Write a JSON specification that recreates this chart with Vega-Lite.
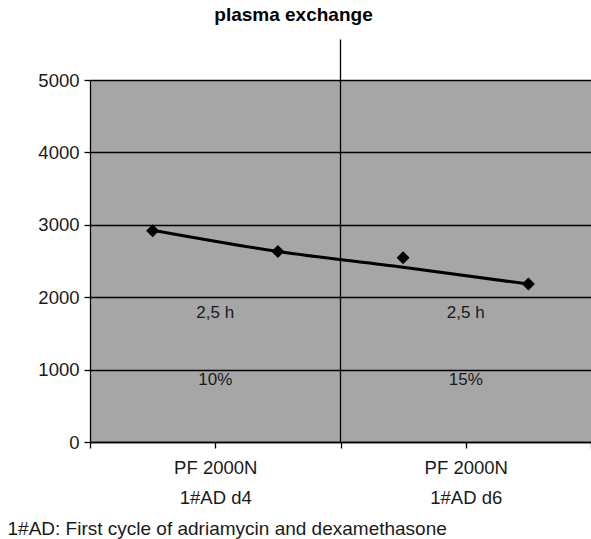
{
  "$schema": "https://vega.github.io/schema/vega-lite/v6.json",
  "width": 501,
  "height": 362,
  "autosize": {"type": "none"},
  "padding": {"left": 90, "top": 80, "right": 0, "bottom": 97},
  "background": "white",
  "config": {
    "view": {"fill": "#a6a6a6", "stroke": null},
    "font": "Liberation Sans"
  },
  "title": {
    "text": "plasma exchange",
    "fontSize": 19,
    "fontWeight": "bold",
    "color": "black",
    "anchor": "middle",
    "dx": -47,
    "offset": 14
  },
  "datasets": {
    "points": [
      {"x": 0.5, "v": 2917},
      {"x": 1.5, "v": 2632},
      {"x": 2.5, "v": 2544},
      {"x": 3.5, "v": 2181}
    ],
    "trend": [
      {"x": 0.5, "v": 2925},
      {"x": 1.5, "v": 2632},
      {"x": 2.5, "v": 2414},
      {"x": 3.5, "v": 2181}
    ],
    "labels": [
      {"x": 1, "v": 1780, "t": "2,5 h"},
      {"x": 3, "v": 1780, "t": "2,5 h"},
      {"x": 1, "v": 860, "t": "10%"},
      {"x": 3, "v": 860, "t": "15%"}
    ]
  },
  "layer": [
    {
      "data": {"values": [{"x": 2}]},
      "mark": {"type": "rule", "color": "black", "strokeWidth": 1.3, "clip": false},
      "encoding": {
        "x": {
          "field": "x",
          "type": "quantitative",
          "scale": {"domain": [0, 4], "nice": false},
          "axis": {
            "values": [0, 1, 2, 3, 4],
            "labelExpr": "datum.value == 1 ? ['PF 2000N', '1#AD d4'] : datum.value == 3 ? ['PF 2000N', '1#AD d6'] : ''",
            "labelFontSize": 18.5,
            "labelColor": "#1a1a1a",
            "labelLineHeight": 30,
            "labelPadding": 10,
            "labelFlush": false,
            "labelOverlap": false,
            "tickSize": 6,
            "tickColor": "black",
            "tickWidth": 1.3,
            "domainColor": "black",
            "domainWidth": 1.3,
            "grid": false,
            "title": "1#AD: First cycle of adriamycin and dexamethasone",
            "titleFontSize": 19,
            "titleFontWeight": "normal",
            "titleColor": "#1a1a1a",
            "titleAnchor": "start",
            "titleAlign": "left",
            "titleBaseline": "middle",
            "titleX": -83,
            "titleY": 86
          }
        },
        "y": {
          "datum": 0,
          "type": "quantitative",
          "scale": {"domain": [0, 5000], "nice": false},
          "axis": {
            "values": [0, 1000, 2000, 3000, 4000, 5000],
            "format": "d",
            "labelFontSize": 18.5,
            "labelColor": "#1a1a1a",
            "labelPadding": 5,
            "tickSize": 6,
            "tickColor": "black",
            "tickWidth": 1.3,
            "domainColor": "black",
            "domainWidth": 1.3,
            "grid": true,
            "gridColor": "black",
            "gridOpacity": 1,
            "gridWidth": 1.5,
            "title": null
          }
        },
        "y2": {"datum": 5560}
      }
    },
    {
      "data": {"name": "labels"},
      "mark": {"type": "text", "fontSize": 17, "color": "#1a1a1a", "baseline": "middle", "align": "center"},
      "encoding": {
        "x": {"field": "x", "type": "quantitative"},
        "y": {"field": "v", "type": "quantitative"},
        "text": {"field": "t"}
      }
    },
    {
      "data": {"name": "trend"},
      "mark": {"type": "line", "color": "black", "strokeWidth": 3, "interpolate": "monotone"},
      "encoding": {
        "x": {"field": "x", "type": "quantitative"},
        "y": {"field": "v", "type": "quantitative"}
      }
    },
    {
      "data": {"name": "points"},
      "mark": {"type": "point", "shape": "diamond", "filled": true, "color": "black", "opacity": 1, "size": 170},
      "encoding": {
        "x": {"field": "x", "type": "quantitative"},
        "y": {"field": "v", "type": "quantitative"}
      }
    }
  ]
}
